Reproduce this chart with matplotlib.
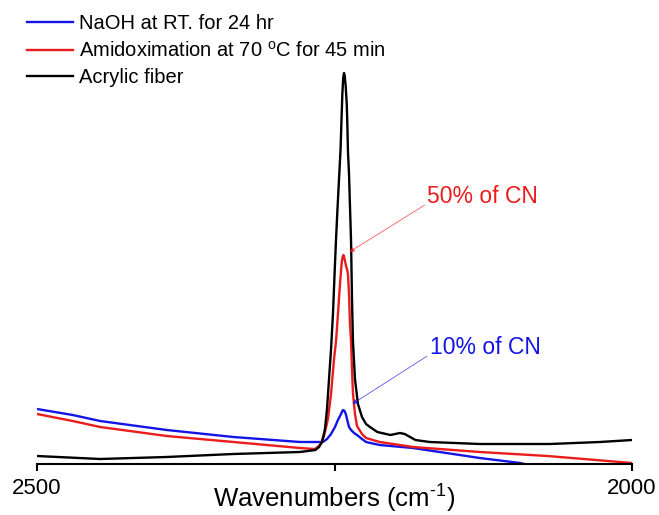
import matplotlib
matplotlib.use("Agg")
import matplotlib.pyplot as plt

plt.rcParams["font.family"] = ["Liberation Sans", "DejaVu Sans"]
plt.rcParams["mathtext.fontset"] = "custom"
plt.rcParams["mathtext.rm"] = "Liberation Sans"

# spectra: wavenumber (cm-1) and intensity (a.u.)
acrylic_wn = [2500, 2447, 2391, 2335, 2279, 2266, 2263, 2260.5, 2258, 2256.3,
              2254.6, 2252.9, 2251.3, 2249.6, 2248.7, 2247.5, 2246.2, 2244.9,
              2244.1, 2243.4, 2242.7, 2242, 2241.4, 2240.6, 2239.7, 2239.1,
              2238.7, 2237.8, 2237, 2236.1, 2235.3, 2234.5, 2232.8, 2230.3,
              2226.9, 2223.5, 2220.2, 2214, 2203, 2195, 2191, 2182, 2170,
              2128, 2069, 2027, 2000]
acrylic_int = [8, 5, 7, 10, 12, 14, 17, 22, 35, 55,
               85, 115, 150, 200, 225, 255, 285, 315,
               345, 370, 386, 391, 388, 378, 360, 335,
               313, 290, 258, 223, 165, 123, 85, 60,
               47, 40, 37, 32, 29, 31, 30, 24, 22,
               20, 20, 22, 24]

amidox_wn = [2500, 2470, 2447, 2391, 2335, 2279, 2266.4, 2262.2, 2258.8,
             2255.5, 2252.9, 2250.4, 2248.7, 2247.1, 2245.4, 2244.5, 2243.9,
             2243.2, 2242.5, 2241.9, 2241.2, 2240.3, 2239.5, 2238.7, 2237.8,
             2237, 2236.1, 2235.3, 2234.5, 2232.8, 2231.1, 2226.9, 2223.5,
             2212, 2184, 2128, 2071, 2000]
amidox_int = [50, 43, 37, 28, 22, 16, 15, 19, 28,
              45, 70, 105, 123, 150, 180, 193, 202,
              207, 209, 207, 203, 198, 195, 190, 170,
              140, 123, 95, 71, 50, 38, 30, 26,
              22, 17, 12, 8, 1]

naoh_wn = [2500, 2470, 2447, 2391, 2335, 2279, 2259.7, 2256.3, 2252.9,
           2249.6, 2247.1, 2244.5, 2243.5, 2242.6, 2241.6, 2240.5, 2239.5,
           2237.8, 2236.1, 2233.6, 2231.1, 2226.9, 2223.5, 2212, 2184, 2128,
           2094, 2080]
naoh_int = [55, 49, 43, 34, 27, 22, 22, 25, 30,
            37, 44, 50, 53, 54, 53, 50, 45,
            37, 34, 31, 29, 25, 22, 19, 16, 6,
            1, -3]

labels = ["NaOH at RT. for 24 hr",
          "Amidoximation at 70 $^{\\mathregular{o}}$C for 45 min",
          "Acrylic fiber"]

blue = "#1414e6"
red = "#ea1c1c"

fig = plt.figure(figsize=(6.59, 5.15), dpi=100)
ax = fig.add_axes([37 / 659, 51 / 515, 595 / 659, 400 / 515])

l1, = ax.plot(naoh_wn, naoh_int, color=blue, lw=1.7)
l2, = ax.plot(amidox_wn, amidox_int, color=red, lw=1.7)
l3, = ax.plot(acrylic_wn, acrylic_int, color="black", lw=1.7)

ax.annotate("50% of CN", xy=(2237.5, 212), xytext=(2172, 261),
            color=red, fontsize=16.5, ha="left", va="baseline",
            arrowprops=dict(arrowstyle="-|>", color=red, lw=0.6, alpha=0.7,
                            mutation_scale=7, shrinkA=0, shrinkB=0,
                            relpos=(0, 0.2)))
ax.annotate("10% of CN", xy=(2235, 60), xytext=(2170, 110),
            color=blue, fontsize=16.5, ha="left", va="baseline",
            arrowprops=dict(arrowstyle="-|>", color=blue, lw=0.6, alpha=0.7,
                            mutation_scale=7, shrinkA=0, shrinkB=0,
                            relpos=(0, 0.2)))

ax.set_xlim(2500, 2000)
ax.set_ylim(0, 400)
for s in ["top", "right", "left"]:
    ax.spines[s].set_visible(False)
ax.spines["bottom"].set_linewidth(1.5)
ax.set_yticks([])
ax.set_xticks([2500, 2250, 2000])
ax.set_xticklabels(["2500", "", "2000"])
ax.tick_params(axis="x", direction="out", length=5, width=1.5, labelsize=16, pad=5)
ax.set_xlabel("Wavenumbers (cm$^{\\mathregular{\u2010}1}$)", fontsize=18.5)
ax.xaxis.set_label_coords(0.5, -0.043)

fig.legend([l1, l2, l3], labels, loc="upper left",
           bbox_to_anchor=(27 / 659, 1 - 14 / 515), frameon=False,
           fontsize=14.5, handlelength=2.3, handletextpad=0.3,
           labelspacing=0.38, borderpad=0, borderaxespad=0)

fig.savefig("out.png", dpi=100)
